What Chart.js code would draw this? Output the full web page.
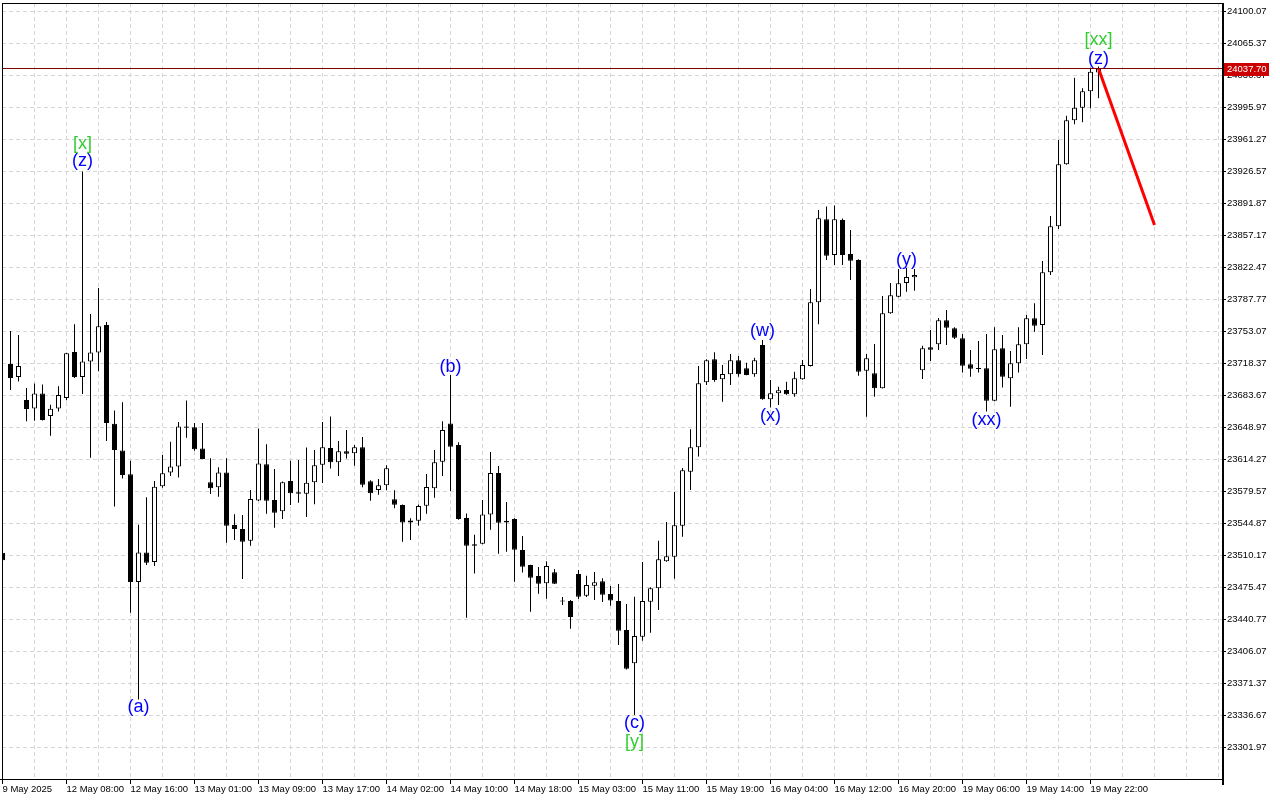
<!DOCTYPE html>
<html><head><meta charset="utf-8">
<script src="https://cdn.jsdelivr.net/npm/chart.js@4.4.1/dist/chart.umd.min.js"></script>
<style>html,body{margin:0;padding:0;background:#fff;overflow:hidden}canvas{display:block}</style>
</head><body>
<canvas id="c" width="1280" height="800"></canvas>
<script>
// ---- DATA (hourly candles) ----
const openP = [23512.6, 23717.3, 23703.2, 23678.3, 23669.0, 23685.2, 23661.0, 23669.1, 23680.4, 23730.3,
 23703.2, 23719.9, 23729.8, 23759.6, 23652.5, 23623.6, 23597.8, 23481.0, 23512.8, 23502.5,
 23584.6, 23599.7, 23606.2, 23649.6, 23648.8, 23625.7, 23589.0, 23583.6, 23599.7, 23542.6,
 23538.3, 23525.6, 23569.4, 23608.5, 23569.7, 23557.5, 23590.4, 23578.1, 23576.7, 23589.0,
 23608.1, 23626.2, 23610.7, 23622.6, 23620.4, 23626.9, 23590.1, 23580.7, 23585.7, 23570.5,
 23564.3, 23545.5, 23547.3, 23563.5, 23582.5, 23611.3, 23652.9, 23629.4, 23550.2, 23521.7,
 23522.4, 23554.2, 23599.0, 23547.3, 23549.2, 23515.6, 23499.3, 23487.4, 23479.5, 23491.4,
 23460.2, 23460.3, 23489.6, 23466.1, 23476.9, 23481.7, 23468.0, 23460.3, 23428.8, 23392.7,
 23421.6, 23459.5, 23474.0, 23503.3, 23508.3, 23541.9, 23600.5, 23626.9, 23697.4, 23722.4,
 23700.7, 23706.1, 23721.3, 23712.6, 23706.1, 23737.9, 23679.0, 23685.5, 23689.1, 23684.4,
 23700.7, 23715.1, 23784.2, 23874.2, 23835.5, 23873.4, 23836.6, 23830.1, 23710.1, 23707.3,
 23691.1, 23772.3, 23790.3, 23805.1, 23811.3, 23710.4, 23735.4, 23738.6, 23764.7, 23756.0,
 23745.2, 23717.0, 23712.6, 23712.6, 23677.5, 23734.3, 23701.8, 23718.0, 23738.6, 23766.8,
 23759.6, 23816.7, 23866.6, 23933.8, 23981.6, 23995.2, 24013.0, 24033.5];
const highP = [23513.5, 23753.1, 23748.7, 23691.3, 23696.2, 23695.0, 23673.2, 23693.1, 23729.5, 23760.3,
 23926.0, 23771.4, 23799.7, 23762.8, 23666.8, 23675.8, 23612.5, 23543.0, 23572.8, 23590.3,
 23618.5, 23632.9, 23654.5, 23677.8, 23653.2, 23653.2, 23615.0, 23605.2, 23615.0, 23554.3,
 23553.6, 23580.6, 23647.4, 23630.4, 23603.3, 23590.0, 23612.4, 23613.2, 23626.8, 23624.1,
 23654.5, 23660.4, 23633.7, 23645.7, 23629.4, 23638.0, 23591.2, 23592.6, 23607.5, 23580.3,
 23565.0, 23549.9, 23565.0, 23598.0, 23624.1, 23655.3, 23705.4, 23632.3, 23555.3, 23532.0,
 23569.7, 23621.8, 23606.6, 23567.6, 23549.9, 23530.9, 23499.5, 23497.2, 23503.4, 23495.0,
 23464.5, 23461.4, 23494.0, 23487.7, 23491.8, 23484.9, 23476.6, 23478.8, 23457.1, 23465.0,
 23502.6, 23475.1, 23525.7, 23545.9, 23578.5, 23604.5, 23646.5, 23715.1, 23722.4, 23730.0,
 23716.2, 23728.1, 23726.0, 23718.7, 23724.1, 23743.3, 23699.9, 23692.7, 23698.1, 23709.0,
 23721.6, 23798.5, 23884.3, 23888.1, 23889.2, 23875.0, 23862.6, 23831.0, 23728.1, 23739.0,
 23791.0, 23805.1, 23820.2, 23821.3, 23820.2, 23737.1, 23754.2, 23767.2, 23775.8, 23757.1,
 23749.8, 23732.5, 23742.2, 23749.8, 23757.1, 23748.7, 23731.4, 23757.1, 23770.4, 23783.1,
 23829.0, 23877.8, 23960.2, 23986.5, 24027.7, 24016.2, 24038.6, 24040.0];
const lowP = [23503.5, 23689.1, 23698.3, 23655.3, 23655.8, 23656.0, 23639.4, 23665.7, 23678.0, 23702.0,
 23684.7, 23615.6, 23709.4, 23633.8, 23562.7, 23593.0, 23447.5, 23353.5, 23499.3, 23498.2,
 23583.0, 23595.9, 23594.2, 23637.3, 23623.1, 23614.0, 23576.3, 23573.4, 23523.5, 23526.4,
 23484.1, 23520.3, 23568.8, 23555.0, 23539.7, 23549.1, 23564.4, 23566.9, 23551.4, 23565.2,
 23588.2, 23604.1, 23595.9, 23614.9, 23607.0, 23583.6, 23569.1, 23575.5, 23580.3, 23560.8,
 23524.6, 23526.4, 23541.8, 23555.0, 23572.3, 23595.9, 23579.6, 23548.4, 23442.1, 23490.1,
 23521.8, 23537.5, 23511.6, 23513.7, 23481.2, 23491.2, 23448.6, 23468.1, 23462.8, 23478.6,
 23456.0, 23430.1, 23462.5, 23464.6, 23461.4, 23459.2, 23455.2, 23412.6, 23386.0, 23336.7,
 23417.3, 23425.9, 23450.5, 23502.8, 23484.4, 23529.9, 23580.7, 23617.1, 23694.5, 23698.1,
 23676.4, 23694.5, 23703.5, 23705.0, 23703.5, 23678.5, 23670.2, 23672.8, 23684.0, 23681.8,
 23700.2, 23714.6, 23760.3, 23830.1, 23824.6, 23824.6, 23808.4, 23704.6, 23660.2, 23681.8,
 23690.6, 23771.8, 23789.8, 23795.7, 23796.8, 23701.0, 23720.5, 23732.5, 23737.9, 23744.4,
 23708.0, 23703.5, 23708.0, 23665.7, 23677.0, 23691.9, 23670.9, 23708.0, 23722.7, 23752.3,
 23727.0, 23813.8, 23863.7, 23933.3, 23977.2, 23979.4, 23994.6, 24005.4];
const closeP = [23504.6, 23702.1, 23715.1, 23668.6, 23685.2, 23656.6, 23668.8, 23683.7, 23728.9, 23703.2,
 23719.9, 23729.8, 23758.3, 23653.3, 23624.0, 23597.0, 23481.0, 23512.9, 23501.8, 23584.1,
 23598.7, 23606.2, 23649.6, 23648.1, 23624.9, 23614.4, 23582.5, 23599.7, 23541.8, 23538.3,
 23524.5, 23570.8, 23609.5, 23569.0, 23556.0, 23589.0, 23577.0, 23576.6, 23588.5, 23607.5,
 23626.9, 23610.7, 23622.6, 23620.0, 23626.9, 23586.4, 23577.0, 23585.7, 23604.2, 23564.6,
 23545.5, 23547.7, 23563.2, 23583.9, 23610.7, 23645.7, 23627.5, 23549.2, 23520.2, 23520.2,
 23554.2, 23599.0, 23545.1, 23545.5, 23515.9, 23497.5, 23485.6, 23479.1, 23498.3, 23479.0,
 23459.8, 23443.0, 23465.0, 23477.7, 23480.6, 23467.2, 23460.7, 23428.1, 23386.9, 23422.3,
 23460.3, 23474.0, 23505.5, 23508.7, 23542.4, 23602.0, 23626.9, 23696.4, 23721.3, 23699.9,
 23706.4, 23721.3, 23706.1, 23705.4, 23721.3, 23679.0, 23685.5, 23688.8, 23684.4, 23701.8,
 23716.2, 23784.2, 23875.3, 23834.7, 23874.2, 23835.5, 23829.3, 23709.0, 23723.5, 23691.1,
 23772.3, 23791.8, 23804.8, 23811.6, 23813.9, 23734.3, 23732.8, 23764.7, 23756.7, 23745.8,
 23715.5, 23712.2, 23712.0, 23677.5, 23733.2, 23703.5, 23718.0, 23738.6, 23766.8, 23758.8,
 23816.7, 23866.6, 23933.8, 23981.6, 23995.2, 24013.0, 24034.2, 24037.7];

// time labels, one every 8 bars starting at bar 0
const timeLabels = ["9 May 2025", "12 May 08:00", "12 May 16:00", "13 May 01:00", "13 May 09:00",
 "13 May 17:00", "14 May 02:00", "14 May 10:00", "14 May 18:00", "15 May 03:00", "15 May 11:00",
 "15 May 19:00", "16 May 04:00", "16 May 12:00", "16 May 20:00", "19 May 06:00", "19 May 14:00", "19 May 22:00"];
const priceTicks = [24100.07, 24065.37, 24030.67, 23995.97, 23961.27, 23926.57, 23891.87, 23857.17,
 23822.47, 23787.77, 23753.07, 23718.37, 23683.67, 23648.97, 23614.27, 23579.57, 23544.87, 23510.17,
 23475.47, 23440.77, 23406.07, 23371.37, 23336.67, 23301.97];
const currentPrice = 24037.70;
const forecastBars = [137, 144];
const forecastPrices = [24037.70, 23868.0];
const waveText  = ['[x]', '(z)', '(a)', '(b)', '(c)', '[y]', '(w)', '(x)', '(y)', '(xx)', '[xx]', '(z)'];
const waveBar   = [10, 10, 17, 56, 79, 79, 95, 96, 113, 123, 137, 137];
const wavePrice = [23955.9, 23937.4, 23345.3, 23714.0, 23328.0, 23307.4, 23753.1, 23660.9, 23830.1, 23656.6, 24068.6, 24048.0];

// ---- BUILD ----
const idx = openP.map((_, i) => i);
const wickData = idx.map(i => ({x: i, y: [lowP[i], highP[i]]}));
const bodyData = idx.map(i => ({x: i, y: [openP[i], closeP[i]]}));
const bodyColors = idx.map(i => closeP[i] >= openP[i] ? '#ffffff' : '#000000');
const xMin = -0.0625, xMax = 152.4375;
const yMin = 23267.27, yMax = 24108.75;
const xTicks = []; for (let v = 0; v <= 152; v += 4) xTicks.push(v);
const labelAt = {}; timeLabels.forEach((t, i) => { labelAt[i * 8] = t; });
const FONT = {family: "'Liberation Sans', Arial, sans-serif", size: 9.5};
const GRID = '#d6d6d6';

const overlay = {
  id: 'overlay',
  afterDatasetsDraw(chart) {
    const {ctx, scales: {x, y}} = chart;
    ctx.save();
    ctx.font = "18px 'Liberation Sans', Arial, sans-serif";
    ctx.textAlign = 'center';
    ctx.textBaseline = 'middle';
    waveText.forEach((t, i) => {
      ctx.fillStyle = t.startsWith('[') ? '#32cd32' : '#0000ff';
      ctx.fillText(t, x.getPixelForValue(waveBar[i]), y.getPixelForValue(wavePrice[i]));
    });
    ctx.restore();
  },
  afterDraw(chart) {
    const {ctx, chartArea: a, scales: {y}} = chart;
    ctx.save();
    ctx.fillStyle = '#000';
    ctx.fillRect(a.left, a.top, 1, a.bottom - a.top + 1);
    ctx.fillRect(a.left, a.top, a.right - a.left, 1);
    ctx.fillRect(0, a.bottom, a.right + 2, 1);
    ctx.fillRect(a.right, a.top, 2, a.bottom - a.top + 6);
    const py = Math.round(y.getPixelForValue(currentPrice));
    ctx.fillStyle = '#cc0000';
    ctx.fillRect(a.right + 2, py - 6, 45, 13);
    ctx.fillStyle = '#ffffff';
    ctx.font = "9.5px 'Liberation Sans', Arial, sans-serif";
    ctx.textAlign = 'left';
    ctx.textBaseline = 'middle';
    ctx.fillText(currentPrice.toFixed(2), a.right + 5, py + 0.5);
    ctx.restore();
  }
};

new Chart(document.getElementById('c'), {
  type: 'bar',
  data: {
    datasets: [
      {type: 'line', data: [{x: xMin, y: currentPrice}, {x: xMax, y: currentPrice}],
       borderColor: '#7a0000', borderWidth: 1, pointRadius: 0, order: 0},
      {type: 'line', data: forecastBars.map((b, i) => ({x: b, y: forecastPrices[i]})),
       borderColor: '#ff0000', borderWidth: 3, pointRadius: 0, order: 0},
      {type: 'bar', data: bodyData, backgroundColor: bodyColors, borderColor: '#000000',
       borderWidth: 1, borderSkipped: false, barThickness: 5, minBarLength: 1,
       grouped: false, inflateAmount: 0, order: 1},
      {type: 'bar', data: wickData, backgroundColor: '#000000', borderWidth: 0,
       barThickness: 1, grouped: false, inflateAmount: 0, order: 2}
    ]
  },
  options: {
    responsive: false, animation: false, devicePixelRatio: 1,
    layout: {padding: {left: 2, top: 3, right: 0, bottom: 0}},
    plugins: {legend: {display: false}, tooltip: {enabled: false}},
    scales: {
      x: {
        type: 'linear', position: 'bottom', min: xMin, max: xMax, bounds: 'data', offset: false,
        afterBuildTicks: s => { s.ticks = xTicks.map(v => ({value: v})); },
        afterFit: s => { s.height = 21; s.paddingLeft = 0; s.paddingRight = 0; },
        ticks: {autoSkip: false, maxRotation: 0, minRotation: 0, align: 'start', padding: 0,
          font: FONT, color: '#000', callback: v => labelAt[v] || ''},
        grid: {offset: false, color: GRID, lineWidth: 1, drawTicks: true, tickLength: 5,
          tickColor: c => (c.tick && labelAt[c.tick.value]) ? '#000' : 'rgba(0,0,0,0)'},
        border: {display: false, dash: [4, 3]}
      },
      y: {
        type: 'linear', position: 'right', min: yMin, max: yMax, bounds: 'data',
        afterBuildTicks: s => { s.ticks = priceTicks.map(v => ({value: v})); },
        afterFit: s => { s.width = 58; s.paddingTop = 0; s.paddingBottom = 0; },
        ticks: {font: FONT, color: '#000', padding: 1, callback: v => v.toFixed(2)},
        grid: {color: GRID, lineWidth: 1, drawTicks: true, tickLength: 4, tickColor: '#000'},
        border: {display: false, dash: [4, 3]}
      }
    }
  },
  plugins: [overlay]
});
</script>
</body></html>
